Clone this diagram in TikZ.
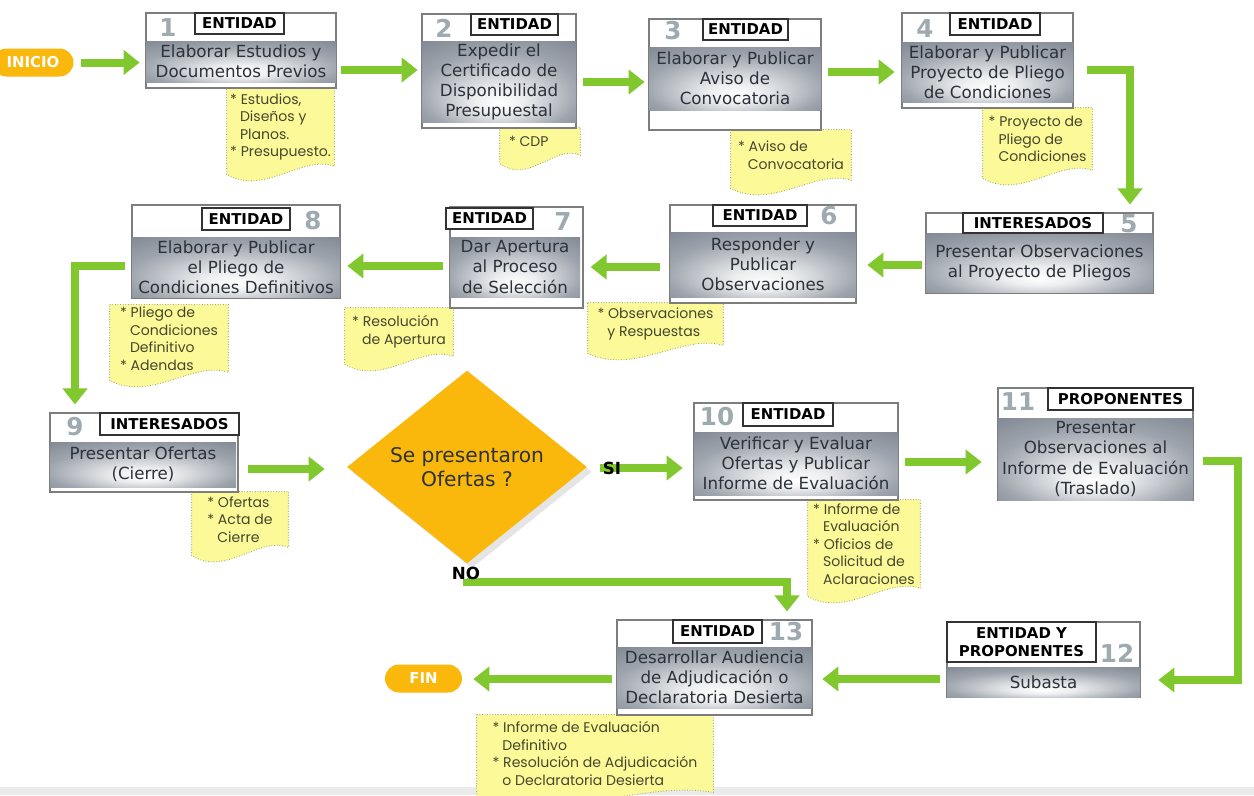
\documentclass[tikz,border=0pt]{standalone}
\usepackage{fontspec}
\setmainfont{DejaVu Sans}
\newfontfamily\notefont{Poppins}
\usepackage{tikz}
\usetikzlibrary{shapes.geometric, arrows.meta, positioning, fit, calc, backgrounds, shadows}

\definecolor{flowgreen}{RGB}{128,200,46}
\definecolor{steel}{RGB}{98,108,122}
\definecolor{tasktext}{RGB}{45,50,58}
\definecolor{numgray}{RGB}{158,170,176}
\definecolor{notefill}{RGB}{252,250,152}
\definecolor{noteline}{RGB}{170,170,110}
\definecolor{notetext}{RGB}{70,70,45}
\definecolor{ambar}{RGB}{250,184,12}
\definecolor{framegray}{RGB}{125,125,125}

\pgfdeclareradialshading{metal}{\pgfpoint{0bp}{-14bp}}{%
  color(0bp)=(white); color(8bp)=(white!88!steel);
  color(26bp)=(steel!62!white); color(52bp)=(steel)}

\newcommand{\noteindent}{\hspace*{0.7em}}

\begin{document}
\begin{tikzpicture}[
  x=0.02cm, y=-0.02cm,
  dims/.style 2 args={minimum width=#1*0.02cm, minimum height=#2*0.02cm},
  frame/.style={draw=framegray, fill=white, line width=0.6pt, inner sep=0pt},
  task/.style={shading=metal, inner sep=1pt, align=center, text=tasktext, font=\fontsize{9.5}{11.5}\selectfont},
  who/.style={draw=black!80, fill=white, line width=0.6pt, inner sep=0pt, align=center, font=\bfseries\fontsize{8.5}{10.5}\selectfont},
  num/.style={text=numgray, font=\bfseries\fontsize{14}{14}\selectfont, inner sep=0pt},
  note/.style={inner sep=0pt, align=left, text=notetext, font=\notefont\fontsize{8}{10}\selectfont},
  notebg/.style={fill=notefill, draw=noteline, densely dotted, line width=0.5pt},
  flow/.style={draw=flowgreen, line width=0.16cm, -{Triangle[length=0.32cm, width=0.48cm]}},
  pill/.style={fill=ambar, rounded corners=0.28cm, minimum height=0.56cm, text=white, font=\bfseries\fontsize{8.5}{9}\selectfont},
  decision/.style={diamond, fill=ambar, minimum width=4.8cm, minimum height=3.1cm, inner sep=0pt, align=center, text=tasktext, font=\fontsize{11.5}{13.5}\selectfont, drop shadow={opacity=0.2}},
  answer/.style={font=\bfseries\fontsize{9.5}{9.5}\selectfont, inner sep=0pt}
]
  \useasboundingbox (0,0) rectangle (1254,795);

  \node[pill, minimum width=1.62cm] (ini) at (33,62.5) {INICIO};

  % row 1
  \node[frame, fit={(146,13) (336,88)}] (f1) {};
  \node[task, dims={190}{41}] (t1) at (241,61.5) {Elaborar Estudios y\\Documentos Previos};
  \node[who, dims={89}{21}] (w1) at (239.5,23.5) {ENTIDAD};
  \node[num] (k1) at (168,28) {1};
  \node[note, dims={107}{78}] (n1) at (280.5,127) {* Estudios,\\\noteindent Diseños y\\\noteindent Planos.\\{}* Presupuesto.};

  \node[frame, fit={(422,14) (576,128)}] (f2) {};
  \node[task, dims={154}{80}] (t2) at (499,82) {Expedir el\\Certificado de\\Disponibilidad\\Presupuestal};
  \node[who, dims={87}{21}] (w2) at (514.5,24.5) {ENTIDAD};
  \node[num] (k2) at (444,28) {2};
  \node[note, dims={80}{27}] (n2) at (540,141.5) {* CDP\hspace*{1.6em}};

  \node[frame, fit={(649,19) (821,130)}] (f3) {};
  \node[task, dims={172}{63}] (t3) at (735,78.5) {Elaborar y Publicar\\Aviso de\\Convocatoria};
  \node[who, dims={85}{21}] (w3) at (745.5,29.5) {ENTIDAD};
  \node[num] (k3) at (673,31) {3};
  \node[note, dims={120}{50}] (n3) at (791,155) {* Aviso de\\\noteindent Convocatoria};

  \node[frame, fit={(902,13) (1073,108)}] (f4) {};
  \node[task, dims={171}{60}] (t4) at (987.5,72) {Elaborar y Publicar\\Proyecto de Pliego\\de Condiciones};
  \node[who, dims={90}{22}] (w4) at (995,24) {ENTIDAD};
  \node[num] (k4) at (925,29) {4};
  \node[note, dims={109}{62}] (n4) at (1037.5,139) {* Proyecto de\\\noteindent Pliego de\\\noteindent Condiciones};

  % row 2
  \node[frame, fit={(926,213) (1153,293)}] (f5) {};
  \node[task, dims={227}{59}] (t5) at (1039.5,262.5) {Presentar Observaciones\\al Proyecto de Pliegos};
  \node[who, dims={140}{20}] (w5) at (1033,223) {INTERESADOS};
  \node[num] (k5) at (1129,224) {5};

  \node[frame, fit={(670,205) (856,303)}] (f6) {};
  \node[task, dims={186}{65}] (t6) at (763,264.5) {Responder y\\Publicar\\Observaciones};
  \node[who, dims={94}{21}] (w6) at (760,215.5) {ENTIDAD};
  \node[num] (k6) at (829,216) {6};
  \node[note, dims={135}{42}] (n6) at (655.5,324) {* Observaciones\\\noteindent y Respuestas};

  \node[frame, fit={(450,207) (583,308)}] (f7) {};
  \node[task, dims={130}{60}] (t7) at (515,267) {Dar Apertura\\al Proceso\\de Selección};
  \node[who, dims={87}{21}] (w7) at (489.5,218.5) {ENTIDAD};
  \node[num] (k7) at (563,222) {7};
  \node[note, dims={108}{48}] (n7) at (399,332) {* Resolución\\\noteindent de Apertura};

  \node[frame, fit={(132,205) (340,298)}] (f8) {};
  \node[task, dims={208}{60}] (t8) at (236,267) {Elaborar y Publicar\\el Pliego de\\Condiciones Definitivos};
  \node[who, dims={88}{22}] (w8) at (246,219) {ENTIDAD};
  \node[num] (k8) at (313,221) {8};
  \node[note, dims={118}{67}] (n8) at (169,338.5) {* Pliego de\\\noteindent Condiciones\\\noteindent Definitivo\\{}* Adendas};

  % row 3
  \node[frame, fit={(50,413) (238,492)}] (f9) {};
  \node[task, dims={186}{45}] (t9) at (143,464.5) {Presentar Ofertas\\(Cierre)};
  \node[who, dims={139}{22}] (w9) at (169.5,424) {INTERESADOS};
  \node[num] (k9) at (75,427) {9};
  \node[note, dims={96}{55}] (n9) at (240,519.5) {* Ofertas\\{}* Acta de\\\noteindent Cierre};

  \node[decision] (dec) at (467,467) {Se presentaron\\Ofertas ?};

  \node[frame, fit={(694,403) (898,500)}] (f10) {};
  \node[task, dims={204}{63}] (t10) at (796,463.5) {Verificar y Evaluar\\Ofertas y Publicar\\Informe de Evaluación};
  \node[who, dims={90}{23}] (w10) at (788,414.5) {ENTIDAD};
  \node[num] (k10) at (717,417) {10};
  \node[note, dims={112}{88}] (n10) at (864,544) {* Informe de\\\noteindent Evaluación\\{}* Oficios de\\\noteindent Solicitud de\\\noteindent Aclaraciones};

  \node[frame, fit={(998,388) (1193,500)}] (f11) {};
  \node[task, dims={195}{82}] (t11) at (1095.5,459) {Presentar\\Observaciones al\\Informe de Evaluación\\(Traslado)};
  \node[who, dims={145}{22}] (w11) at (1120.5,399) {PROPONENTES};
  \node[num] (k11) at (1018,402) {11};

  % row 4
  \node[frame, fit={(947,622) (1140,697)}] (f12) {};
  \node[task, dims={193}{30}] (t12) at (1043.5,682) {Subasta};
  \node[who, dims={149}{40}] (w12) at (1021.5,642) {ENTIDAD Y\\PROPONENTES};
  \node[num] (k12) at (1117,653) {12};

  \node[frame, fit={(617,620) (812,715)}] (f13) {};
  \node[task, dims={195}{61}] (t13) at (714.5,677.5) {Desarrollar Audiencia\\de Adjudicación o\\Declaratoria Desierta};
  \node[who, dims={89}{23}] (w13) at (717.5,631.5) {ENTIDAD};
  \node[num] (k13) at (786,632) {13};
  \node[note, dims={236}{77}] (n13) at (595,753.5) {* Informe de Evaluación\\\noteindent Definitivo\\{}* Resolución de Adjudicación\\\noteindent o Declaratoria Desierta};

  \node[pill, minimum width=1.54cm] (fin) at (423.5,678.5) {FIN};

  % connectors
  \coordinate (turn5) at (1130,70);
  \coordinate (turn8) at (75,266);
  \coordinate (turnno) at (787,582);
  \coordinate (turn11) at (1238,461);
  \coordinate (turn12) at (1238,680);
  \draw[flow, shorten <=0.14cm, shorten >=0.12cm] (ini.east) -- (ini.east -| t1.west);
  \draw[flow, shorten <=0.1cm, shorten >=0.08cm] (t1.east |- 0,70) -- (t2.west |- 0,70);
  \draw[flow, shorten <=0.14cm, shorten >=0.08cm] (t2.east |- 0,82) -- (t3.west |- 0,82);
  \draw[flow, shorten <=0.14cm, shorten >=0.14cm] (t3.east |- 0,72) -- (t4.west |- 0,72);
  \draw[flow, shorten <=0.28cm, shorten >=0.16cm] (t4.east |- turn5) -- (turn5) -- (f5.north -| turn5);
  \draw[flow, shorten <=0.08cm, shorten >=0.22cm] (t5.west |- 0,265) -- (t6.east |- 0,265);
  \draw[flow, shorten <=0.2cm, shorten >=0.14cm] (t6.west |- 0,267) -- (f7.east |- 0,267);
  \draw[flow, shorten <=0.14cm, shorten >=0.14cm] (t7.west |- 0,266) -- (t8.east |- 0,266);
  \draw[flow, shorten <=0.14cm, shorten >=0.16cm] (t8.west |- turn8) -- (turn8) -- (f9.north -| turn8);
  \draw[flow, shorten <=0.24cm, shorten >=0.44cm] (t9.east |- 0,469) -- (dec.west |- 0,469);
  \draw[flow, shorten <=0.26cm, shorten >=0.22cm] (dec.east |- 0,468) -- (t10.west |- 0,468);
  \draw[flow, shorten <=0.3cm, shorten >=0.16cm] (dec.south) |- (turnno) -- (f13.north -| turnno);
  \draw[flow, shorten <=0.14cm, shorten >=0.32cm] (t10.east |- 0,462) -- (t11.west |- 0,462);
  \draw[flow, shorten <=0.2cm, shorten >=0.36cm] (t11.east |- turn11) -- (turn11) -- (turn12) -- (t12.east |- turn12);
  \draw[flow, shorten <=0.14cm, shorten >=0.2cm] (t12.west |- 0,679) -- (t13.east |- 0,679);
  \draw[flow, shorten <=0.1cm, shorten >=0.22cm] (t13.west |- 0,679) -- (fin.east |- 0,679);

  \node[answer] (si) at (612,468) {SI};
  \node[answer] (no) at (466,573) {NO};

  \begin{scope}[on background layer]
    \fill[white] (0,0) rectangle (1254,795);
    \fill[black!8] (0,787) rectangle (1254,795);
    \foreach \n in {n1,n2,n3,n4,n6,n7,n8,n9,n10,n13}
      \filldraw[notebg] (\n.north west) -- (\n.north east) -- (\n.south east)
        .. controls ($(\n.south east)!0.3!(\n.south west)+(0,-12)$) and ($(\n.south east)!0.65!(\n.south west)+(0,30)$) .. ($(\n.south west)+(0,8)$) -- cycle;
  \end{scope}
\end{tikzpicture}
\end{document}
